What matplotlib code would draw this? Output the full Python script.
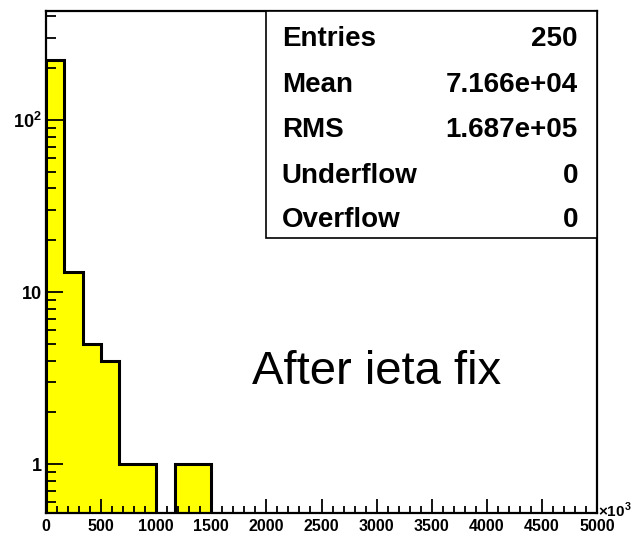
import numpy as np
import matplotlib
matplotlib.use("Agg")
import matplotlib.pyplot as plt
from matplotlib.patches import Rectangle
from matplotlib.ticker import FixedLocator, MultipleLocator

# histogram: 30 bins from 0 to 5000 (x10^3)
bin_edges = np.linspace(0, 5000, 31)
counts = [224, 13, 5, 4, 1, 1, 0, 1, 1, 0, 0, 0, 0, 0, 0,
          0, 0, 0, 0, 0, 0, 0, 0, 0, 0, 0, 0, 0, 0, 0]

stat_names = ["Entries", "Mean", "RMS", "Underflow", "Overflow"]
stat_values = ["250", "7.166e+04", "1.687e+05", "0", "0"]

y_ticks = [1, 10, 100]
y_ticklabels = ["1", "10", r"10$^{\mathbf{2}}$"]
x_ticks = list(range(0, 5001, 500))

plt.rcParams['font.family'] = ['Liberation Sans', 'DejaVu Sans']
plt.rcParams['mathtext.fontset'] = 'custom'
plt.rcParams['mathtext.rm'] = 'Liberation Sans:bold'
plt.rcParams['mathtext.bf'] = 'Liberation Sans:bold'

W, H = 632, 536
fig = plt.figure(figsize=(W / 100, H / 100), dpi=100)
ax = fig.add_axes([46 / W, 23 / H, 551 / W, 502 / H])

ax.stairs(counts, bin_edges, fill=True, color="#ffff00", zorder=1)
ax.stairs(counts, bin_edges, color="black", lw=2.2, zorder=2)

ax.set_yscale("log")
ax.set_xlim(0, 5000)
ax.set_ylim(0.52, 430)

ax.xaxis.set_major_locator(FixedLocator(x_ticks))
ax.xaxis.set_minor_locator(MultipleLocator(100))
ax.set_xticklabels([str(v) for v in x_ticks], fontweight="bold", fontsize=11.5)
ax.yaxis.set_major_locator(FixedLocator(y_ticks))
ax.set_yticklabels(y_ticklabels, fontweight="bold", fontsize=13)

ax.tick_params(which="both", direction="in", top=False, right=False, width=1.3, zorder=3)
ax.tick_params(axis="x", which="major", length=10, pad=4)
ax.tick_params(axis="x", which="minor", length=5)
ax.tick_params(axis="y", which="major", length=12, pad=3)
ax.tick_params(axis="y", which="minor", length=7, labelleft=False)
for sp in ax.spines.values():
    sp.set_linewidth(1.6)
    sp.set_zorder(4)

# stats box
ax.add_patch(Rectangle((0.399, 0.548), 0.601, 0.452, transform=ax.transAxes,
                       facecolor="white", edgecolor="black", lw=1.2, zorder=5))
row_y = [0.944, 0.853, 0.762, 0.672, 0.583]
for name, val, yy in zip(stat_names, stat_values, row_y):
    ax.text(0.428, yy, name, transform=ax.transAxes, ha="left", va="center",
            fontsize=20, fontweight="bold", zorder=6)
    ax.text(0.9655, yy, val, transform=ax.transAxes, ha="right", va="center",
            fontsize=20, fontweight="bold", zorder=6)

ax.text(0.374, 0.257, "After ieta fix", transform=ax.transAxes, ha="left",
        va="baseline", fontsize=34, zorder=6)

fig.text(598 / W, 1 - 510 / H, r"$\times$10$^{\mathbf{3}}$", ha="left", va="center",
         fontsize=11, fontweight="bold")

fig.savefig("out.png", dpi=100)
